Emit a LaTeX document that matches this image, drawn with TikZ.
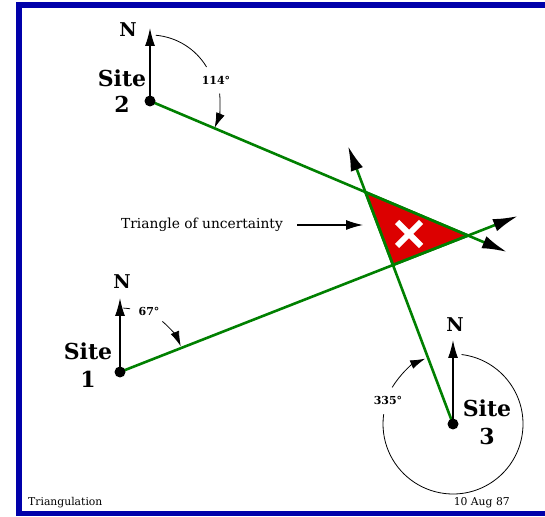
\documentclass[tikz,border=0pt]{standalone}
\usepackage{fontspec}
\setmainfont{DejaVu Serif}
\usetikzlibrary{arrows.meta}
\definecolor{fgreen}{RGB}{0,128,0}
\definecolor{tred}{RGB}{220,0,0}
\definecolor{bblue}{RGB}{0,0,170}
\begin{document}
\begin{tikzpicture}[x=1pt,y=1pt,
  bearing/.style={draw=fgreen, line width=2.6pt, -{Latex[black,length=25pt,width=13pt]}},
  north/.style={draw=black, line width=1.3pt, -{Latex[length=18pt,width=10pt]}},
  dial/.style={draw=black, line width=0.8pt},
  dialarrow/.style={dial, -{Latex[length=15pt,width=9pt]}},
  sitelbl/.style={font=\bfseries\fontsize{22}{22}\selectfont, inner sep=0pt},
  nlbl/.style={font=\bfseries\fontsize{19}{19}\selectfont, inner sep=0pt},
  anglbl/.style={font=\bfseries\fontsize{11}{11}\selectfont, inner sep=0pt},
  plainlbl/.style={font=\fontsize{13.8}{13.8}\selectfont, inner sep=0pt},
  footlbl/.style={font=\fontsize{10.8}{10.8}\selectfont, inner sep=0pt},
  dot/.style={fill=black}
]
\useasboundingbox (0,0) rectangle (545,516);
\fill[white] (0,0) rectangle (545,516);
% frame
\fill[bblue] (16,0) rectangle (22,514);
\fill[bblue] (16,508) rectangle (545,514);
\fill[bblue] (16,0) rectangle (545,5);

% sites and bearing ends
\coordinate (S1) at (120,144);
\coordinate (S2) at (150,415);
\coordinate (S3) at (453,92);
\coordinate (E1) at (518,300);
\coordinate (E2) at (507,264);
\coordinate (E3) at (348,370);
\coordinate (N1) at (120,218);
\coordinate (N2) at (150,488);
\coordinate (N3) at (453,176);

% triangle of uncertainty
\coordinate (T12) at (intersection of S1--E1 and S2--E2);
\coordinate (T13) at (intersection of S1--E1 and S3--E3);
\coordinate (T23) at (intersection of S2--E2 and S3--E3);
\filldraw[fill=tred, draw=fgreen, line width=2.6pt, line join=round] (T12) -- (T13) -- (T23) -- cycle;
\draw[white, line width=6pt] (397,270) -- (421,294);
\draw[white, line width=6pt] (397,294) -- (421,270);

% bearing lines
\draw[bearing] (S1) -- (E1);
\draw[bearing] (S2) -- (E2);
\draw[bearing] (S3) -- (E3);

% north arrows
\draw[north] (S1) -- (N1);
\draw[north] (S2) -- (N2);
\draw[north] (S3) -- (N3);

% dots
\fill[dot] (S1) circle (5.5);
\fill[dot] (S2) circle (5.5);
\fill[dot] (S3) circle (5.5);

% angle dials
\draw[dial] (S2) ++(85:66) arc[start angle=85, end angle=31, radius=66];
\draw[dialarrow] (S2) ++(6:70) arc[start angle=6, end angle=-22.5, radius=70];
\node[anglbl] (a114) at (216,436) {114°};

\draw[dial] (S1) ++(87:64) arc[start angle=87, end angle=81, radius=64];
\draw[dialarrow] (S1) ++(50:66) arc[start angle=50, end angle=23, radius=66];
\node[anglbl] (a67) at (149,205) {67°};

\draw[dial] (S3) ++(83:70) arc[start angle=83, end angle=-188, radius=70];
\draw[dialarrow] (S3) ++(149:71) arc[start angle=149, end angle=113, radius=71];
\node[anglbl] (a335) at (388,116) {335°};

% labels
\node[nlbl] (n1) at (122,234) {N};
\node[nlbl] (n2) at (128,486) {N};
\node[nlbl] (n3) at (455,191) {N};
\node[sitelbl] (s1a) at (88,165) {Site};
\node[sitelbl] (s1b) at (88,137) {1};
\node[sitelbl] (s2a) at (122,438) {Site};
\node[sitelbl] (s2b) at (122,412) {2};
\node[sitelbl] (s3a) at (487,108) {Site};
\node[sitelbl] (s3b) at (487,80) {3};

\node[plainlbl] (tlabel) at (202,291) {Triangle of uncertainty};
\coordinate (tarr) at (363,291);
\draw[line width=1.2pt, -{Latex[length=17pt,width=10pt]}] ([xshift=14pt]tlabel.east) -- (tarr);

\node[footlbl, anchor=west] (foot1) at (28,13) {Triangulation};
\node[footlbl, anchor=east] (foot2) at (510,13) {10 Aug 87};
\end{tikzpicture}
\end{document}
